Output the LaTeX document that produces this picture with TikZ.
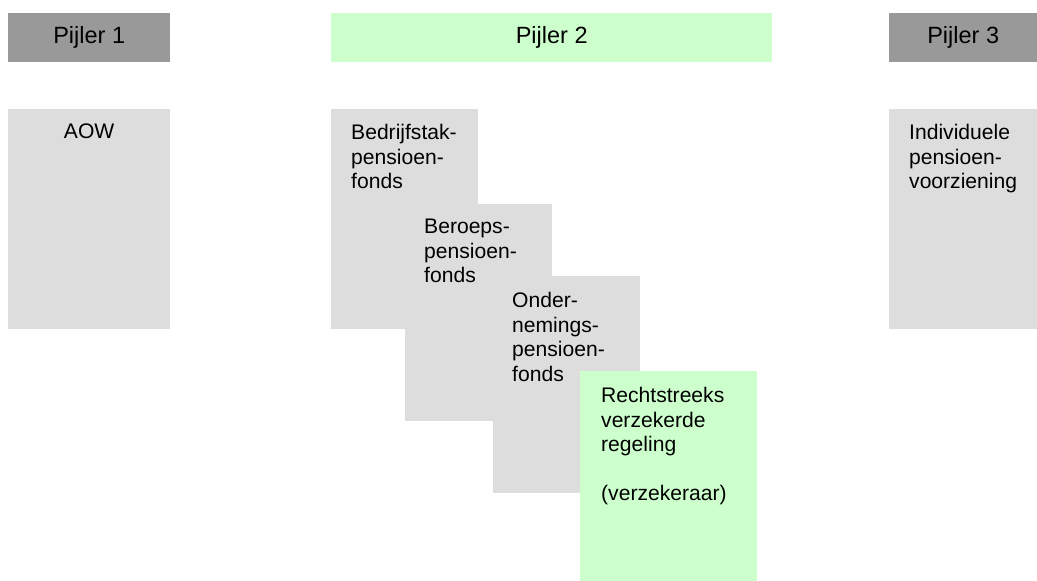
\documentclass[tikz,border=0pt]{standalone}
\usepackage{fontspec}
\setmainfont{Liberation Sans}
\usepackage{xcolor}
\definecolor{pijlergrijs}{HTML}{999999}
\definecolor{vakgrijs}{HTML}{DDDDDD}
\definecolor{vakgroen}{HTML}{CCFFCC}

\begin{document}
\begin{tikzpicture}[x=1pt,y=-1pt]
            \tikzstyle{every node}=[font=\fontsize{21.1}{24.6}\selectfont, inner sep=0pt]
            \tikzstyle{kop}=[rectangle, minimum height=49pt, anchor=north west, font=\fontsize{23.5}{27}\selectfont]
            \tikzstyle{vak}=[rectangle, fill=vakgrijs, anchor=north west]
            \tikzstyle{tekst}=[anchor=north west, align=left]
            \useasboundingbox (0,0) rectangle (1037,581);
            % pijlers
            \node [kop, fill=pijlergrijs, minimum width=162pt] (pijler1) at (8,13) {Pijler 1};
            \node [kop, fill=vakgroen, minimum width=441pt] (pijler2) at (331,13) {Pijler 2};
            \node [kop, fill=pijlergrijs, minimum width=148pt] (pijler3) at (889,13) {Pijler 3};
            % vakken
            \node [vak, minimum width=162pt, minimum height=220pt] (aow) at (8,109) {};
            \node [anchor=north] (aowtekst) at ([yshift=-15pt]aow.north) {AOW};
            \node [vak, minimum width=147pt, minimum height=220pt] (bedrijf) at (331,109) {};
            \node [tekst] (bedrijftekst) at ([shift={(20,15)}]bedrijf.north west) {Bedrijfstak-\\pensioen-\\fonds};
            \node [vak, minimum width=147pt, minimum height=217pt] (beroep) at (405,204) {};
            \node [tekst] (beroeptekst) at ([shift={(19,15)}]beroep.north west) {Beroeps-\\pensioen-\\fonds};
            \node [vak, minimum width=147pt, minimum height=217pt] (onder) at (493,276) {};
            \node [tekst] (ondertekst) at ([shift={(19,16)}]onder.north west) {Onder-\\nemings-\\pensioen-\\fonds};
            \node [vak, fill=vakgroen, minimum width=177pt, minimum height=210pt] (recht) at (580,371) {};
            \node [tekst] (rechttekst) at ([shift={(21,16)}]recht.north west) {Rechtstreeks\\verzekerde\\regeling\\[24.6pt](verzekeraar)};
            \node [vak, minimum width=148pt, minimum height=220pt] (indiv) at (889,109) {};
            \node [tekst] (indivtekst) at ([shift={(20,15)}]indiv.north west) {Individuele\\pensioen-\\voorziening};
        \end{tikzpicture}
\end{document}
